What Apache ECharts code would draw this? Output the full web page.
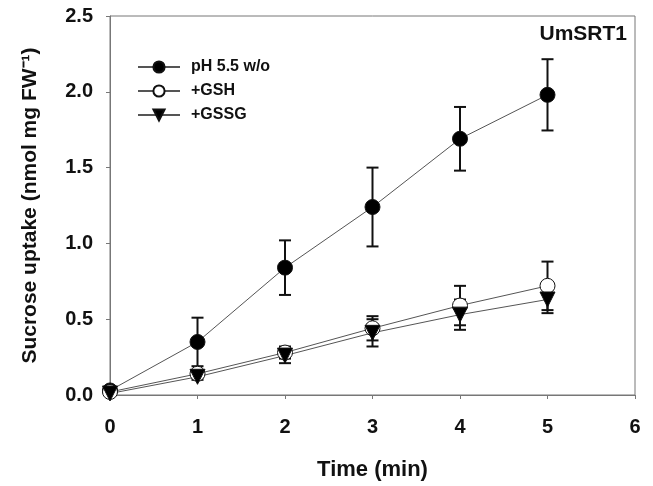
<!DOCTYPE html>
<html><head><meta charset="utf-8">
<script src="https://cdn.jsdelivr.net/npm/echarts@6/dist/echarts.min.js"></script>
<style>html,body{margin:0;padding:0;background:#fff}#c{width:653px;height:486px}</style>
</head><body><div id="c"></div>
<script>
const times = [0, 1, 2, 3, 4, 5];
const seriesNames = ['pH 5.5 w/o', '+GSH', '+GSSG'];
const phMean = [0.03, 0.35, 0.84, 1.24, 1.69, 1.98];
const phErr  = [0.00, 0.16, 0.18, 0.26, 0.21, 0.235];
const gshMean = [0.02, 0.14, 0.28, 0.44, 0.59, 0.72];
const gshErr  = [0.00, 0.02, 0.04, 0.08, 0.13, 0.16];
const gssgMean = [0.01, 0.12, 0.26, 0.41, 0.53, 0.63];
const gssgErr  = [0.00, 0.02, 0.05, 0.09, 0.10, 0.09];
const xTicks = [0, 1, 2, 3, 4, 5, 6];
const yTicks = ['0.0', '0.5', '1.0', '1.5', '2.0', '2.5'];

const font = 'Liberation Sans, Arial, sans-serif';
const chart = echarts.init(document.getElementById('c'));

function pts(m){ return times.map((t,i)=>[t,m[i]]); }
function errData(m,e){ return times.map((t,i)=>[t,m[i]-e[i],m[i]+e[i]]); }
function errSeries(m,e){
  return {
    type:'custom', silent:true, z:1,
    data: errData(m,e),
    renderItem: function(params, api){
      const x = api.value(0), lo = api.value(1), hi = api.value(2);
      if (hi - lo < 1e-6) return null;
      const pLo = api.coord([x, lo]), pHi = api.coord([x, hi]);
      const w = 6;
      const st = {stroke:'#111', lineWidth:2};
      return {type:'group', children:[
        {type:'line', shape:{x1:pLo[0],y1:pLo[1],x2:pHi[0],y2:pHi[1]}, style:st},
        {type:'line', shape:{x1:pHi[0]-w,y1:pHi[1],x2:pHi[0]+w,y2:pHi[1]}, style:st},
        {type:'line', shape:{x1:pLo[0]-w,y1:pLo[1],x2:pLo[0]+w,y2:pLo[1]}, style:st}
      ]};
    }
  };
}
function lineSeries(name, m, symbol, color, rot){
  return {
    name:name, type:'line', data:pts(m), z:3,
    symbol:symbol, symbolSize:15, symbolRotate:rot||0,
    showAllSymbol:true,
    lineStyle:{color:'#555', width:1},
    itemStyle:{color:color, borderColor:'#111', borderWidth:1},
    emphasis:{disabled:true}
  };
}

chart.setOption({
  animation:false,
  backgroundColor:'#fff',
  textStyle:{fontFamily:font},
  grid:{left:110, right:18, top:16, bottom:90, show:true, borderColor:'#777', borderWidth:1},
  title:{text:'UmSRT1', right:21, top:19, textStyle:{fontFamily:font, fontWeight:'bold', fontSize:21, color:'#111'}},
  legend:{
    left:132, top:53, orient:'vertical', itemGap:6, itemWidth:42, itemHeight:14,
    data:seriesNames,
    textStyle:{fontFamily:font, fontWeight:'bold', fontSize:16, lineHeight:18, color:'#111', padding:[0,0,0,6]}
  },
  xAxis:{
    type:'value', min:0, max:6, interval:1,
    name:'Time (min)', nameLocation:'middle', nameGap:64,
    nameTextStyle:{fontFamily:font, fontWeight:'bold', fontSize:22, color:'#111'},
    axisLine:{show:true, lineStyle:{color:'#777'}},
    axisTick:{show:true, length:4, lineStyle:{color:'#777'}},
    splitLine:{show:false},
    axisLabel:{fontFamily:font, fontWeight:'bold', fontSize:20, color:'#111', margin:22,
      formatter:function(v){ return String(xTicks[Math.round(v)]); }}
  },
  yAxis:{
    type:'value', min:0, max:2.5, interval:0.5,
    name:'Sucrose uptake (nmol mg FW\u207B\u00B9)', nameLocation:'middle', nameGap:69, nameRotate:90,
    nameTextStyle:{fontFamily:font, fontWeight:'bold', fontSize:21, color:'#111'},
    axisLine:{show:true, lineStyle:{color:'#777'}},
    axisTick:{show:true, length:4, lineStyle:{color:'#777'}},
    splitLine:{show:false},
    axisLabel:{fontFamily:font, fontWeight:'bold', fontSize:20, color:'#111', margin:17,
      formatter:function(v){ return yTicks[Math.round(v*2)]; }}
  },
  series:[
    errSeries(phMean, phErr),
    errSeries(gshMean, gshErr),
    errSeries(gssgMean, gssgErr),
    lineSeries(seriesNames[0], phMean, 'circle', '#000'),
    lineSeries(seriesNames[1], gshMean, 'circle', '#fff'),
    lineSeries(seriesNames[2], gssgMean, 'triangle', '#000', 180)
  ]
});
</script></body></html>
